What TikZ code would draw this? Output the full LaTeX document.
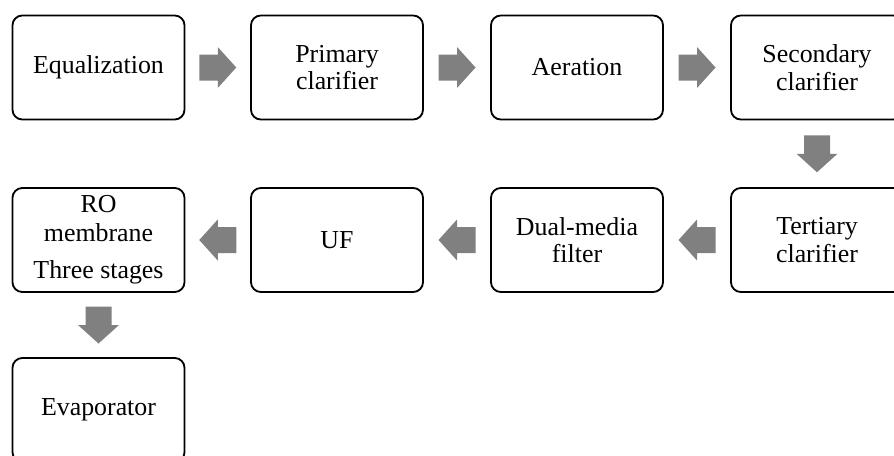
\documentclass[tikz,border=0pt]{standalone}
\usepackage{fontspec}
\setmainfont{Liberation Serif}
\usetikzlibrary{positioning,calc}

\definecolor{arrowgray}{RGB}{128,128,128}

\tikzset{
    stage/.style={draw, rounded corners=7pt, line width=1.3pt, align=center,
        minimum width=4.3cm, minimum height=2.6cm, inner sep=0pt,
        font=\fontsize{18.4}{19.5}\selectfont},
    flowarrow/.pic={
        \fill [arrowgray] (-18.5, -13) -- (0, -13) -- (0, -20.5) -- (18.5, 0)
            -- (0, 20.5) -- (0, 13) -- (-18.5, 13) -- cycle;
    }
}

\begin{document}
\begin{tikzpicture}[x=.025cm, y=-.025cm]

    \useasboundingbox (0, 0) rectangle (894, 455);
    \clip (0, 0) rectangle (894, 455);

    \def\ca{98.5}
    \def\cb{337}
    \def\cc{577}
    \def\cd{817}
    \def\ra{67.5}
    \def\rb{240}
    \def\rc{410}

    % top row, left to right
    \node [stage] (eq)   at (\ca, \ra) {Equalization};
    \node [stage] (prim) at (\cb, \ra) {Primary\\clarifier};
    \node [stage] (aer)  at (\cc, \ra) {Aeration};
    \node [stage] (sec)  at (\cd, \ra) {Secondary\\clarifier};

    % second row, right to left
    \node [stage] (ter)  at (\cd, \rb) {Tertiary\\clarifier};
    \node [stage] (dual) at (\cc, \rb) {Dual-media\\filter};
    \node [stage] (uf)   at (\cb, \rb) {UF};
    \node [stage] (ro)   at (\ca, \rb) {RO\\[1pt]membrane\\[7pt]Three stages};

    \node [stage] (evap) at (\ca, \rc) {Evaporator};

    \pic at ($(eq.east)!.5!(prim.west)$) {flowarrow};
    \pic at ($(prim.east)!.5!(aer.west)$) {flowarrow};
    \pic at ($(aer.east)!.5!(sec.west)$) {flowarrow};
    \pic [rotate=-90] at ($(sec.south)!.5!(ter.north)$) {flowarrow};
    \pic [rotate=180] at ($(ter.west)!.5!(dual.east)$) {flowarrow};
    \pic [rotate=180] at ($(dual.west)!.5!(uf.east)$) {flowarrow};
    \pic [rotate=180] at ($(uf.west)!.5!(ro.east)$) {flowarrow};
    \pic [rotate=-90] at ($(ro.south)!.5!(evap.north)$) {flowarrow};

\end{tikzpicture}
\end{document}
